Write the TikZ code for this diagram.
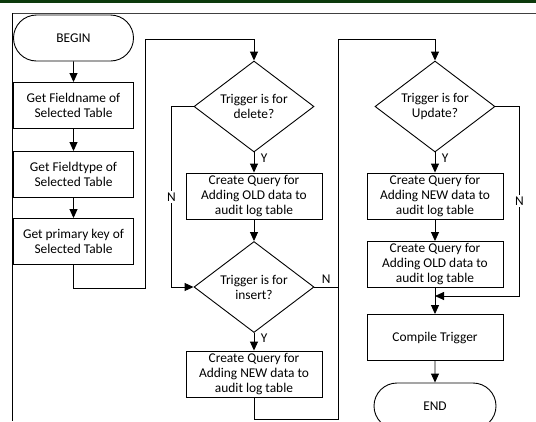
\documentclass[tikz,border=0pt]{standalone}
\usepackage{fontspec}
\setmainfont{Carlito}
\usetikzlibrary{shapes.geometric,shapes.misc,arrows.meta,positioning}
\definecolor{bandgreen}{RGB}{12,58,12}
\tikzset{termnode/.style={draw, rounded rectangle, minimum width=120pt, minimum height=46pt, inner sep=0pt}}
\tikzset{procbox/.style={draw, rectangle, minimum width=136pt, minimum height=46pt, inner sep=0pt, align=center}}
\tikzset{leftbox/.style={procbox, minimum width=120pt}}
\tikzset{decision/.style={draw, diamond, minimum width=120pt, minimum height=91pt, inner sep=0pt, align=center, shape aspect=1.3}}
\tikzset{flow/.style={-{Triangle[length=9pt,width=8pt]}}}
\tikzset{lbl/.style={fill=white, inner sep=1.5pt}}

\begin{document}
\begin{tikzpicture}[x=1pt, y=-1pt, line width=0.9pt, font=\fontsize{13.4}{15}\selectfont]
  \clip (0,0) rectangle (536,421);
  % page band and frame
  \fill[bandgreen] (0,0) rectangle (536,2.5);
  \draw[line width=1.6pt, black!75] (12,13.5) -- (536,13.5);
  \draw[line width=1.6pt] (12.5,13) -- (12.5,421);

  % left column
  \node[termnode] (begin) at (73.5,38) {BEGIN};
  \node[leftbox] (fname) at (73.5,105.5) {Get Fieldname of\\Selected Table};
  \node[leftbox] (ftype) at (73.5,174.5) {Get Fieldtype of\\Selected Table};
  \node[leftbox] (fkey) at (73.5,241.5) {Get primary key of\\Selected Table};

  % middle column
  \node[decision] (chkdel) at (254,106.5) {Trigger is for\\delete?};
  \node[procbox] (delold) at (254,196) {Create Query for\\Adding OLD data to\\audit log table};
  \node[decision] (chkins) at (254,287) {Trigger is for\\insert?};
  \node[procbox] (insnew) at (254,374) {Create Query for\\Adding NEW data to\\audit log table};

  % right column
  \node[decision] (chkupd) at (435,106.5) {Trigger is for\\Update?};
  \node[procbox] (updnew) at (435,196) {Create Query for\\Adding NEW data to\\audit log table};
  \node[procbox] (updold) at (435,264.5) {Create Query for\\Adding OLD data to\\audit log table};
  \node[procbox] (compile) at (435,337.5) {Compile Trigger};
  \node[termnode, minimum width=122pt] (end) at (435,406) {END};

  \coordinate (jIns) at (338,287);
  \coordinate (jUpd) at (435,296);

  \draw[flow] (begin) -- (fname);
  \draw[flow] (fname) -- (ftype);
  \draw[flow] (ftype) -- (fkey);
  \draw[flow] (fkey.south) -- ++(0,23) -| (145,39) -| (chkdel.north);

  \draw[flow] (chkdel.south) -- node[right=3pt, pos=0.3] {Y} (delold.north);
  \draw[flow] (chkdel.west) -- ++(-22,0) |- node[lbl, pos=0.25] {N} (chkins.west);
  \draw[flow] (delold) -- (chkins);
  \draw[flow] (chkins.south) -- node[right=3pt, pos=0.3] {Y} (insnew.north);
  \draw (chkins.east) -- node[above] {N} (jIns);
  \draw (insnew.south) -- ++(0,22) -| (jIns);
  \draw[flow] (jIns) -- (338,39) -| (chkupd.north);

  \draw[flow] (chkupd.south) -- node[right=3pt, pos=0.3] {Y} (updnew.north);
  \draw[flow] (chkupd.east) -- ++(24,0) |- node[lbl, pos=0.25] {N} (jUpd);
  \draw[flow] (updnew) -- (updold);
  \draw[flow] (updold) -- (compile);
  \draw[flow] (compile) -- (end);
\end{tikzpicture}
\end{document}
